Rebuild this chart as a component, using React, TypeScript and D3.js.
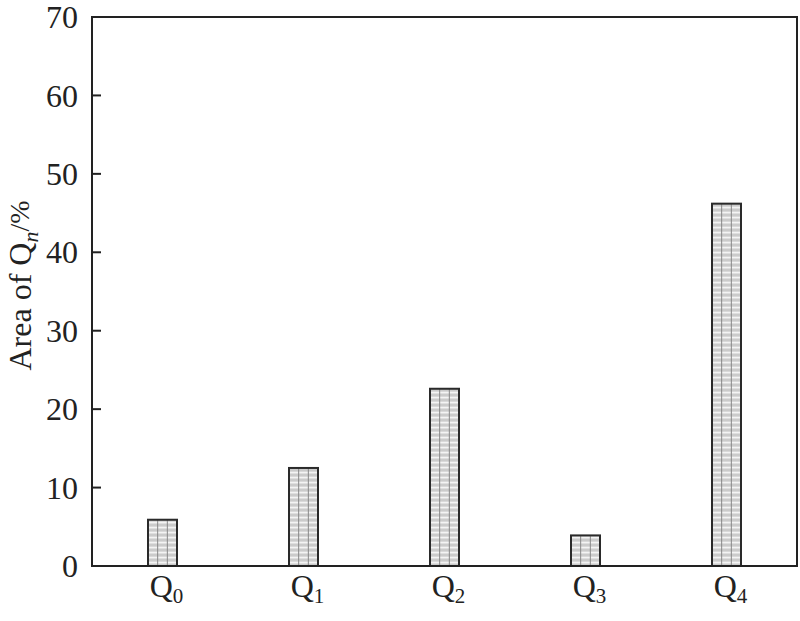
import React from 'react'
import * as d3 from 'd3'

// categories (subscript index for Q)
const categories = ['0', '1', '2', '3', '4']
// area of each Q species, %
const areaValues = [5.9, 12.5, 22.6, 3.9, 46.2]
const yTicks = [0, 10, 20, 30, 40, 50, 60, 70]

const width = 800
const height = 621
const margin = { top: 17, right: 3, bottom: 55, left: 92 }

const App = () => {
  const innerW = width - margin.left - margin.right
  const innerH = height - margin.top - margin.bottom

  const xScale = d3.scaleBand().domain(categories).range([0, innerW]).padding(0)
  const yScale = d3.scaleLinear().domain([0, 70]).range([innerH, 0])

  const barW = 29
  const font = "'Liberation Serif', 'Times New Roman', serif"

  return (
    <svg width={width} height={height} style={{ position: 'absolute', left: 0, top: 0 }}>
      <defs>
        <pattern id="hatch" patternUnits="userSpaceOnUse" width="6" height="5">
          <rect width="6" height="5" fill="#d9d9d9" />
          <rect y="0" width="6" height="1.2" fill="#f4f4f4" />
          <rect y="2.5" width="6" height="1" fill="#bdbdbd" />
        </pattern>
      </defs>
      <g transform={`translate(${margin.left},${margin.top})`}>
        {areaValues.map((v, i) => {
          const cx = (xScale(categories[i]) as number) + xScale.bandwidth() / 2
          const x0 = cx - barW / 2
          const y0 = yScale(v)
          const h = innerH - y0
          return (
            <g key={i}>
              <rect x={x0} y={y0} width={barW} height={h} fill="url(#hatch)" />
              <line x1={x0 + barW / 3} x2={x0 + barW / 3} y1={y0} y2={innerH} stroke="#888" strokeWidth={1} />
              <line x1={x0 + (2 * barW) / 3} x2={x0 + (2 * barW) / 3} y1={y0} y2={innerH} stroke="#888" strokeWidth={1} />
              <rect x={x0} y={y0} width={barW} height={h} fill="none" stroke="#2a2a2a" strokeWidth={2} />
            </g>
          )
        })}

        {/* frame */}
        <rect x={0} y={0} width={innerW} height={innerH} fill="none" stroke="#222" strokeWidth={2} />

        {/* y ticks */}
        {yTicks.map(t => (
          <g key={t} transform={`translate(0,${yScale(t)})`}>
            <line x1={0} x2={9} stroke="#222" strokeWidth={2} />
            <text x={-14} dy="0.35em" textAnchor="end" style={{ fontFamily: font }} fontSize={32} fill="#222">{t}</text>
          </g>
        ))}

        {/* x labels */}
        {categories.map(c => {
          const cx = (xScale(c) as number) + xScale.bandwidth() / 2
          return (
            <text key={c} x={cx + 4} y={innerH + 31} textAnchor="middle" style={{ fontFamily: font }} fontSize={32} fill="#222">
              Q<tspan fontSize={21} dy={6}>{c}</tspan>
            </text>
          )
        })}

        {/* y axis title */}
        <text
          transform={`translate(${-61},${innerH / 2 - 6}) rotate(-90)`}
          textAnchor="middle"
          style={{ fontFamily: font }}
          fontSize={32}
          fill="#222"
        >
          Area of Q<tspan fontSize={22} fontStyle="italic" dy={7}>n</tspan><tspan fontSize={28} dy={-9}>/%</tspan>
        </text>
      </g>
    </svg>
  )
}

export default App
